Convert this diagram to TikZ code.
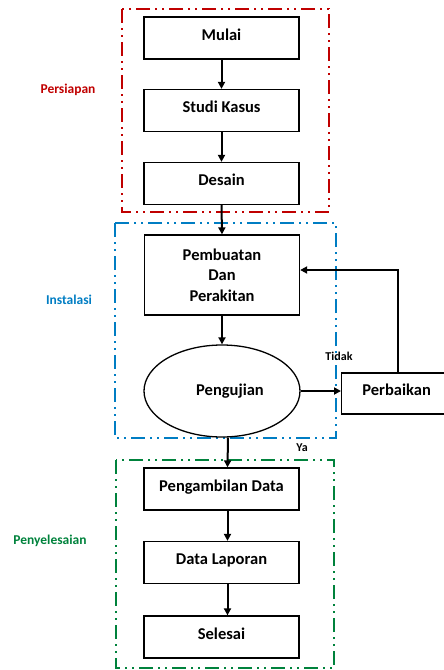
\documentclass[tikz,border=0pt]{standalone}
\usepackage{fontspec}
\setmainfont{Carlito}
\usetikzlibrary{arrows.meta,shapes.geometric}
\definecolor{cred}{RGB}{192,0,0}
\definecolor{cblue}{RGB}{0,125,195}
\definecolor{cgreen}{RGB}{0,130,60}
\begin{document}
\begin{tikzpicture}[x=1pt,y=-1pt,
  box/.style={draw=black,line width=1.3pt,fill=white,minimum width=155pt,minimum height=42pt,inner sep=0pt,text depth=7pt,align=center,font=\fontsize{16.5}{20}\selectfont\bfseries},
  flow/.style={line width=2pt,-{Triangle[length=7pt,width=7pt]}},
  frame/.style={line width=2pt,dash pattern=on 14pt off 5pt on 2pt off 5pt on 2pt off 5pt},
  lbl/.style={font=\fontsize{13.5}{16}\selectfont\bfseries},
  yn/.style={font=\fontsize{12}{14}\selectfont\bfseries}]
\useasboundingbox (0,0) rectangle (444,670);
% frames
\draw[frame,cred] (122,9) rectangle (329,212);
\draw[frame,cblue] (115,223) rectangle (336,438);
\draw[frame,cgreen] (116,460) rectangle (334,668);
% labels
\node[lbl,text=cred] (lp) at (68,90) {Persiapan};
\node[lbl,text=cblue] (li) at (69,300) {Instalasi};
\node[lbl,text=cgreen] (ls) at (50,541) {Penyelesaian};
% nodes
\node[box] (mulai) at (221.5,38) {Mulai};
\node[box] (studi) at (221.5,110.5) {Studi Kasus};
\node[box] (desain) at (221.5,183.5) {Desain};
\node[box,minimum height=80pt,text depth=,font=\fontsize{16.5}{20.5}\selectfont\bfseries] (buat) at (222,275) {Pembuatan\\Dan\\Perakitan};
\node[draw=black,line width=1.3pt,fill=white,ellipse,minimum width=156pt,minimum height=92pt,inner sep=0pt,font=\fontsize{16.5}{20}\selectfont\bfseries] (uji) at (222,391) {\hspace*{16pt}Pengujian};
\node[box,minimum width=110pt,minimum height=41pt,anchor=west] (perb) at (341,393.5) {Perbaikan};
\node[box] (ambil) at (221.5,489) {Pengambilan Data};
\node[box] (lapor) at (221.5,562.5) {Data Laporan};
\node[box] (selesai) at (221.5,637) {Selesai};
\node[yn] (tidak) at (339,356) {Tidak};
\node[yn] (ya) at (302,448) {Ya};
% connectors
\draw[flow] (mulai) -- (studi);
\draw[flow] (studi) -- (desain);
\draw[flow] (desain.south) -- (buat.north);
\draw[flow] (buat) -- (uji);
\draw[flow] (uji.east) -- (perb.west |- uji.east);
\draw[flow] (perb.north -| 398,0) |- (buat.east |- 0,270);
\draw[flow] ([xshift=6pt]uji.south) -- ([xshift=6pt]ambil.north);
\draw[flow] ([xshift=6pt]ambil.south) -- ([xshift=6pt]lapor.north);
\draw[flow] ([xshift=6pt]lapor.south) -- ([xshift=6pt]selesai.north);
\end{tikzpicture}
\end{document}
